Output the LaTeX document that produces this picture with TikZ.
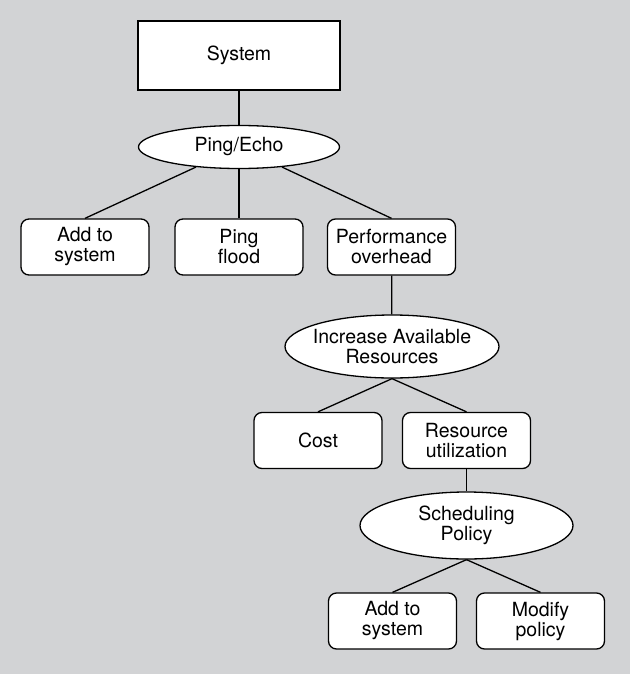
\documentclass[tikz,border=0pt]{standalone}
\usepackage{fontspec}
\setmainfont{TeX Gyre Heros}
\usetikzlibrary{shapes.geometric}
\definecolor{bggray}{RGB}{210,211,213}
\begin{document}
\begin{tikzpicture}[x=1pt,y=-1pt,
  every node/.style={font=\fontsize{19.5}{20}\selectfont, align=center, inner sep=0pt, line width=1.3pt, draw=black, fill=white},
  rbox/.style={rectangle, rounded corners=8pt, minimum width=128pt, minimum height=56pt},
  ell/.style={ellipse, inner xsep=-12pt},
  conn/.style={line width=1.3pt}]
\fill[bggray] (0,0) rectangle (630,674);
\useasboundingbox (0,0) rectangle (630,674);
\node[rectangle, minimum width=202pt, minimum height=69pt] (sys) at (239,55.5) {System};
\node[ell, minimum width=201pt, minimum height=43pt] (pe) at (239,147) {Ping/Echo};
\node[rbox] (add1) at (85,247) {Add to\\system};
\node[rbox] (ping) at (239,247) {Ping\\flood};
\node[rbox] (perf) at (391.5,247) {Performance\\overhead};
\node[ell, minimum width=214pt, minimum height=63pt] (iar) at (392,346.5) {Increase Available\\Resources};
\node[rbox] (cost) at (318,440.5) {Cost};
\node[rbox] (res) at (466.5,440.5) {Resource\\utilization};
\node[ell, minimum width=213pt, minimum height=67pt] (sched) at (466.5,525.5) {Scheduling\\Policy};
\node[rbox] (add2) at (392.5,621) {Add to\\system};
\node[rbox] (mod) at (540.5,621) {Modify\\policy};
\draw[conn] (sys) -- (pe);
\draw[conn] (pe.205) -- (add1.north);
\draw[conn] (pe) -- (ping);
\draw[conn] (pe.335) -- (perf.north);
\draw[conn] (perf) -- (iar);
\draw[conn] (iar.south) -- (cost.north);
\draw[conn] (iar.south) -- (res.north);
\draw[conn] (res) -- (sched);
\draw[conn] (sched.south) -- (add2.north);
\draw[conn] (sched.south) -- (mod.north);
\end{tikzpicture}
\end{document}
